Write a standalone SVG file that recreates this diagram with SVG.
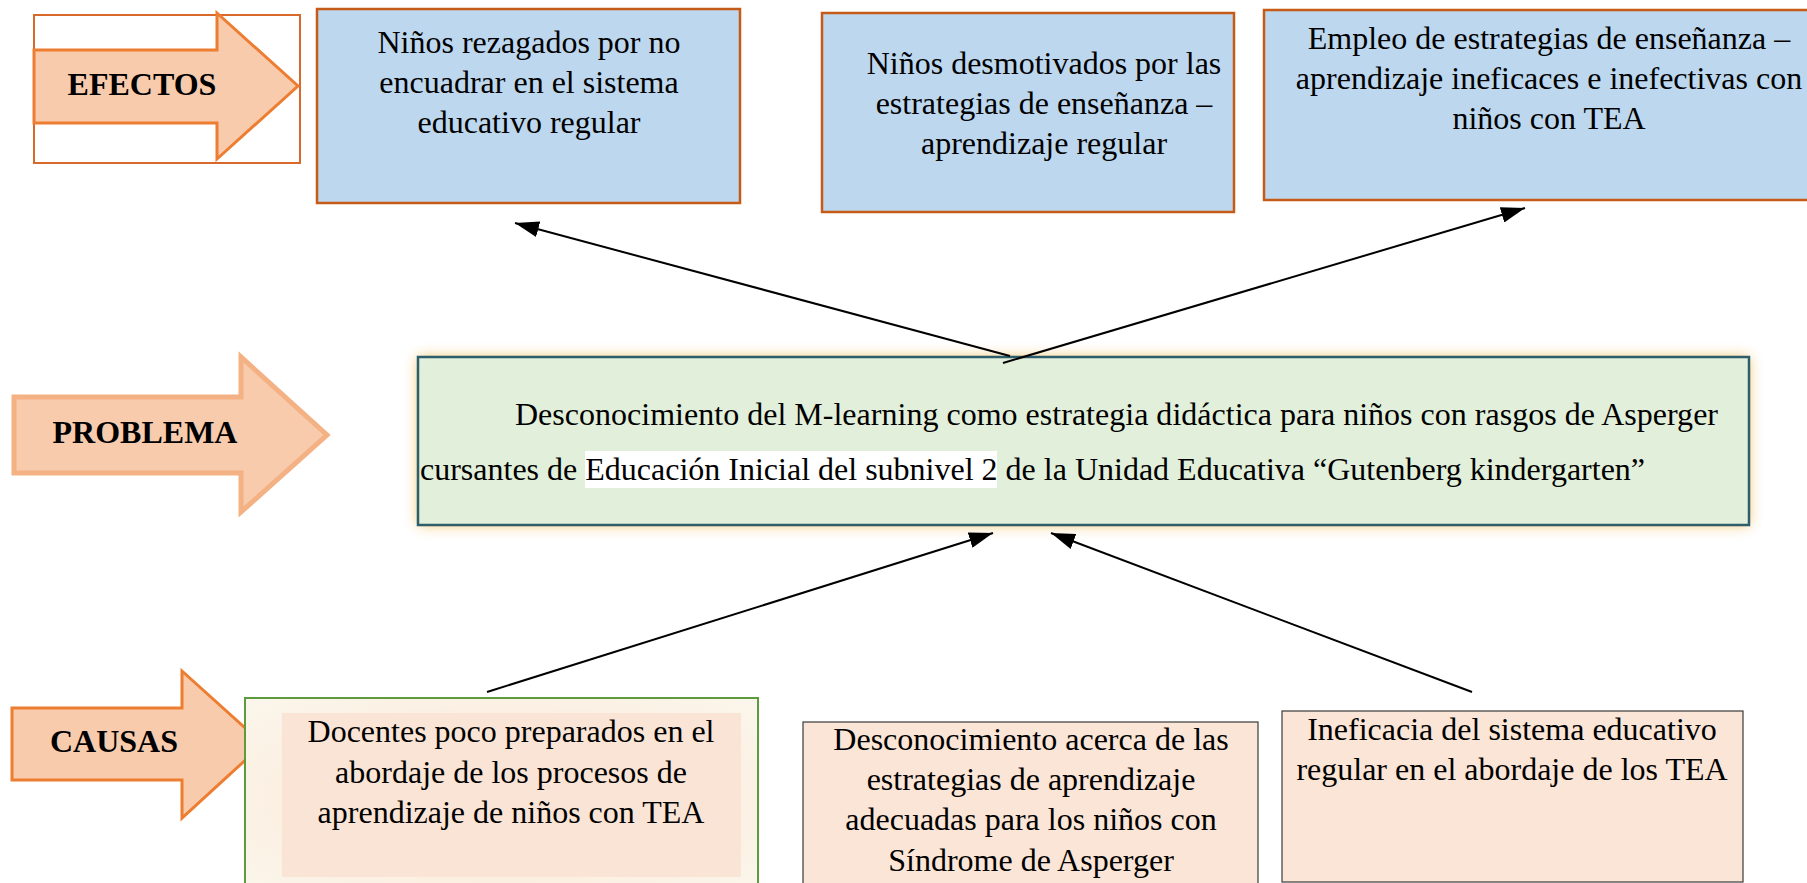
<svg xmlns="http://www.w3.org/2000/svg" width="1807" height="883" viewBox="0 0 1807 883">
<style>
.t{font-family:"Liberation Serif","Times New Roman",serif;font-size:32px;fill:#000;text-anchor:middle}
.b{font-weight:bold}
.s{text-anchor:start}
.arrowA{fill:#F8CBAD;stroke:#ED7D31;stroke-width:3;stroke-linejoin:miter}
.arrowB{fill:#F8CBAD;stroke:#F4B183;stroke-width:5;stroke-linejoin:miter}
.eff{fill:#BDD7EE;stroke:#C65B17;stroke-width:2.5}
.cau{fill:#FBE5D6;stroke:#3A3A3A;stroke-width:1.2}
.conn{stroke:#000;stroke-width:2;fill:none;marker-end:url(#ah)}
</style>
<defs>
<marker id="ah" markerUnits="userSpaceOnUse" markerWidth="26" markerHeight="16" refX="24" refY="8" orient="auto">
<path d="M0,0 L24,8 L0,16 Z" fill="#000"/>
</marker>
<filter id="glow" x="-10%" y="-30%" width="120%" height="160%">
<feGaussianBlur stdDeviation="7"/>
</filter>
<radialGradient id="cream" cx="50%" cy="50%" r="70%">
<stop offset="0" stop-color="#FBE6D2"/>
<stop offset="1" stop-color="#FBF6EC"/>
</radialGradient>
</defs>

<g id="efectos-label">
<rect x="34" y="15" width="266" height="148" fill="#FFFFFF" stroke="#D8692A" stroke-width="2"/>
<polygon class="arrowA" points="34,50 217,50 217,13 298,86 217,159 217,123 34,123"/>
<text class="t b" x="142" y="95">EFECTOS</text>
</g>

<g id="efecto1">
<rect class="eff" x="317" y="9" width="423" height="194"/>
<text class="t" x="529" y="53">Niños rezagados por no</text>
<text class="t" x="529" y="93">encuadrar en el sistema</text>
<text class="t" x="529" y="133">educativo regular</text>
</g>

<g id="efecto2">
<rect class="eff" x="822" y="13" width="412" height="199"/>
<text class="t" x="1044" y="74">Niños desmotivados por las</text>
<text class="t" x="1044" y="114">estrategias de enseñanza –</text>
<text class="t" x="1044" y="154">aprendizaje regular</text>
</g>

<g id="efecto3">
<rect class="eff" x="1264" y="10" width="560" height="190"/>
<text class="t" x="1549" y="49">Empleo de estrategias de enseñanza –</text>
<text class="t" x="1549" y="89">aprendizaje ineficaces e inefectivas con</text>
<text class="t" x="1549" y="129">niños con TEA</text>
</g>

<g id="problema-label">
<polygon class="arrowB" points="14,397 241,397 241,357 327,435 241,512 241,473 14,473"/>
<text class="t b" x="145" y="443">PROBLEMA</text>
</g>

<g id="problema">
<rect x="418" y="357" width="1331" height="168" fill="#F0C060" opacity="0.95" filter="url(#glow)"/>
<rect x="418" y="357" width="1331" height="168" fill="#E2EFDA" stroke="#2E5E6C" stroke-width="2.5"/>
<rect x="585" y="451" width="412" height="37" fill="#FFFFFF"/>
<text class="t s" x="515" y="425" textLength="1203" lengthAdjust="spacing">Desconocimiento del M-learning como estrategia didáctica para niños con rasgos de Asperger</text>
<text class="t s" x="420" y="480">cursantes de Educación Inicial del subnivel 2 de la Unidad Educativa “Gutenberg kindergarten”</text>
</g>

<g id="causas-label">
<polygon class="arrowA" points="12,708 182,708 182,671 263,744 182,818 182,780 12,780"/>
<text class="t b" x="114" y="752">CAUSAS</text>
</g>

<g id="causa1">
<rect x="245" y="698" width="513" height="200" fill="url(#cream)" stroke="#5E9B3C" stroke-width="2"/>
<rect x="282" y="713" width="459" height="164" fill="#FAE4D5"/>
<text class="t" x="511" y="742">Docentes poco preparados en el</text>
<text class="t" x="511" y="783">abordaje de los procesos de</text>
<text class="t" x="511" y="823">aprendizaje de niños con TEA</text>
</g>

<g id="causa2">
<rect class="cau" x="803" y="722" width="455" height="180"/>
<text class="t" x="1031" y="750">Desconocimiento acerca de las</text>
<text class="t" x="1031" y="790">estrategias de aprendizaje</text>
<text class="t" x="1031" y="830">adecuadas para los niños con</text>
<text class="t" x="1031" y="871">Síndrome de Asperger</text>
</g>

<g id="causa3">
<rect class="cau" x="1282" y="711" width="461" height="171" stroke="#666666"/>
<text class="t" x="1512" y="740">Ineficacia del sistema educativo</text>
<text class="t" x="1512" y="780">regular en el abordaje de los TEA</text>
</g>

<g id="connectors">
<line class="conn" x1="1010" y1="356" x2="515" y2="223"/>
<line class="conn" x1="1003" y1="363" x2="1525" y2="208"/>
<line class="conn" x1="487" y1="692" x2="993" y2="533"/>
<line class="conn" x1="1472" y1="692" x2="1051" y2="533"/>
</g>
</svg>
